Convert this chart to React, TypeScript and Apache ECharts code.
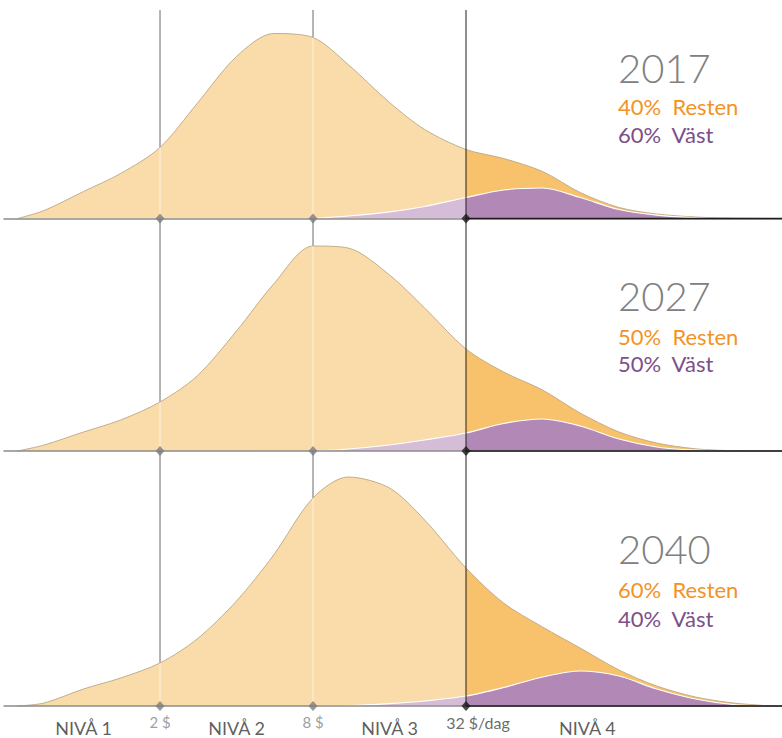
import React, { useEffect, useRef } from 'react';
import * as echarts from 'echarts';

// Income in $ per day (log scale, roughly half-octave steps)
const incomes = [0.55, 0.7, 1, 1.4, 2, 2.8, 4, 5.6, 8, 11, 16, 22, 32, 45, 64, 90, 128, 180, 256, 360, 512];

const years = ['2017', '2027', '2040'];

// Whole-world population density per income step (arbitrary units)
const total2017 = [0, 8, 27, 45, 71, 115, 162, 185, 181, 154, 116, 89, 69, 60, 47, 26, 11, 4.5, 1.5, 0.3, 0];
const total2027 = [0, 6, 19, 31, 49, 75, 120, 167, 205, 203, 176, 143, 102, 79, 61, 38, 19, 8, 2.2, 0.3, 0];
const total2040 = [0, 3, 17, 28, 43, 67, 105, 151, 208, 229, 218, 186, 138, 103, 79, 58, 36, 20, 9, 3, 0];

// "Väst" (the West) part of the population
const vast2017 = [0, 0, 0, 0, 0, 0, 0, 0, 0, 2.5, 6.6, 12, 21, 28.5, 30.5, 21, 9, 3.3, 0.7, 0, 0];
const vast2027 = [0, 0, 0, 0, 0, 0, 0, 0, 0, 2, 6, 11, 18, 27.5, 32, 25, 12, 4, 0.8, 0, 0];
const vast2040 = [0, 0, 0, 0, 0, 0, 0, 0, 0, 0.3, 2.3, 5, 10, 18.5, 29, 35, 30, 17, 7, 1.5, 0];

const totals = [total2017, total2027, total2040];
const vasts = [vast2017, vast2027, vast2040];

// share of people above 32 $/dag
const restenShare = [40, 50, 60];
const vastShare = [60, 50, 40];

const markerValues = [2, 8];
const markerLabels = ['2 $', '8 $'];
const thresholdValue = 32;
const thresholdLabel = '32 $/dag';
const levelLabels = ['NIVÅ 1', 'NIVÅ 2', 'NIVÅ 3', 'NIVÅ 4'];
const levelCenters = [1, 4, 16, 96];

// layout
const W = 782;
const H = 738;
const X_MIN = 0.4866;
const X_MAX = 560.5;
const BASELINES = [218.5, 451, 706];
const PANEL_H = 200;
const SMOOTH = 0.3;
const FONT = 'Lato, "Open Sans", sans-serif';

const LIGHT_ORANGE = '#f9dcaa';
const DARK_ORANGE = '#f7c26b';
const LIGHT_PURPLE = '#d5bdd8';
const DARK_PURPLE = '#b188b6';

function trimZeros(xs: number[], ys: number[]) {
  let first = ys.findIndex((v) => v > 0);
  let last = ys.length - 1;
  while (last > 0 && ys[last] <= 0) last--;
  first = Math.max(0, first - 1);
  last = Math.min(ys.length - 1, last + 1);
  const out: number[][] = [];
  for (let i = first; i <= last; i++) out.push([xs[i], ys[i]]);
  return out;
}

export default function App() {
  const ref = useRef<HTMLDivElement>(null);

  useEffect(() => {
    document.body.style.margin = '0';
    const chart = echarts.init(ref.current!, null, { renderer: 'svg' });

    const grids: any[] = BASELINES.map((b) => ({ left: 4, right: 0, top: b - PANEL_H, height: PANEL_H }));
    grids.push({ left: 4, right: 0, top: 10, height: BASELINES[2] - 10 });

    const xAxes = grids.map((_, i) => ({
      type: 'log',
      logBase: 2,
      gridIndex: i,
      min: X_MIN,
      max: X_MAX,
      z: 6,
      axisLine: { show: i < 3, lineStyle: { color: '#8c8c8c', width: 1.5 } },
      axisTick: { show: false },
      axisLabel: { show: false },
      splitLine: { show: false },
    }));
    const yAxes = grids.map((_, i) => ({
      type: 'value',
      gridIndex: i,
      min: 0,
      max: i < 3 ? PANEL_H : 1,
      show: false,
    }));

    const series: any[] = [];
    const totalIdx: number[] = [];
    const vastIdx: number[] = [];
    const overlay = 3;

    // full-height vertical guide lines (behind the areas)
    markerValues.forEach((v) => {
      series.push({
        type: 'line',
        xAxisIndex: overlay,
        yAxisIndex: overlay,
        data: [[v, 0], [v, 1]],
        showSymbol: false,
        silent: true,
        lineStyle: { color: '#6a6a6a', width: 1 },
        z: 1,
      });
    });

    years.forEach((_, p) => {
      const total = totals[p];
      const vast = vasts[p];
      totalIdx.push(series.length);
      series.push({
        type: 'line',
        xAxisIndex: p,
        yAxisIndex: p,
        data: trimZeros(incomes, total),
        smooth: SMOOTH,
        showSymbol: false,
        silent: true,
        clip: false,
        lineStyle: { color: '#bca682', width: 0.9 },
        areaStyle: { opacity: 1 },
        z: 3,
      });
      vastIdx.push(series.length);
      series.push({
        type: 'line',
        xAxisIndex: p,
        yAxisIndex: p,
        data: trimZeros(incomes, vast),
        smooth: SMOOTH,
        showSymbol: false,
        silent: true,
        clip: false,
        lineStyle: { color: '#ffffff', width: 1.2 },
        areaStyle: { opacity: 1 },
        z: 4,
      });
      // light guide lines inside the areas
      markerValues.forEach((v) => {
        const h = total[incomes.indexOf(v)];
        series.push({
          type: 'line',
          xAxisIndex: p,
          yAxisIndex: p,
          data: [[v, 0], [v, h]],
          showSymbol: false,
          silent: true,
          clip: false,
          lineStyle: { color: 'rgba(255,255,255,0.65)', width: 1 },
          z: 5,
        });
      });
      // black baseline to the right of the threshold
      series.push({
        type: 'line',
        xAxisIndex: p,
        yAxisIndex: p,
        data: [[thresholdValue, 0], [X_MAX, 0]],
        showSymbol: false,
        silent: true,
        clip: false,
        lineStyle: { color: '#1e1e1e', width: 1.5 },
        z: 7,
      });
      // diamonds
      series.push({
        type: 'scatter',
        xAxisIndex: p,
        yAxisIndex: p,
        data: markerValues.map((v) => [v, 0]),
        symbol: 'diamond',
        symbolSize: [9, 10],
        itemStyle: { color: '#7d7d7d' },
        silent: true,
        clip: false,
        z: 9,
      });
      series.push({
        type: 'scatter',
        xAxisIndex: p,
        yAxisIndex: p,
        data: [[thresholdValue, 0]],
        symbol: 'diamond',
        symbolSize: [9, 10],
        itemStyle: { color: '#1a1a1a' },
        silent: true,
        clip: false,
        z: 9,
      });
    });

    // black full-height threshold line
    series.push({
      type: 'line',
      xAxisIndex: overlay,
      yAxisIndex: overlay,
      data: [[thresholdValue, 0], [thresholdValue, 1]],
      showSymbol: false,
      silent: true,
      lineStyle: { color: '#1e1e1e', width: 1 },
      z: 8,
    });

    // bottom labels
    const last = 2;
    series.push({
      type: 'scatter',
      xAxisIndex: last,
      yAxisIndex: last,
      symbolSize: 0,
      silent: true,
      clip: false,
      z: 10,
      data: levelCenters.map((v, i) => ({ value: [v, 0], name: levelLabels[i] })),
      label: {
        show: true,
        position: 'inside',
        offset: [0, 22],
        formatter: '{b}',
        color: '#333333',
        fontSize: 18,
        fontFamily: FONT,
      },
    });
    series.push({
      type: 'scatter',
      xAxisIndex: last,
      yAxisIndex: last,
      symbolSize: 0,
      silent: true,
      clip: false,
      z: 10,
      data: markerValues.map((v, i) => ({ value: [v, 0], name: markerLabels[i] })),
      label: {
        show: true,
        position: 'inside',
        offset: [0, 16],
        formatter: '{b}',
        color: '#858585',
        fontSize: 15,
        fontFamily: FONT,
      },
    });
    series.push({
      type: 'scatter',
      xAxisIndex: last,
      yAxisIndex: last,
      symbolSize: 0,
      silent: true,
      clip: false,
      z: 10,
      data: [{ value: [thresholdValue, 0], name: thresholdLabel }],
      label: {
        show: true,
        position: 'inside',
        offset: [12, 16],
        formatter: '{b}',
        color: '#444444',
        fontSize: 16,
        fontFamily: FONT,
      },
    });

    const titleY = [
      [68, 106, 134],
      [296, 336, 363],
      [549, 589, 618],
    ];
    const graphics: any[] = [];
    years.forEach((y, p) => {
      const [ty, ry, vy] = titleY[p];
      graphics.push({
        type: 'text',
        x: 618,
        y: ty,
        style: { text: y, fill: '#808080', font: `300 40px ${FONT}`, align: 'left', verticalAlign: 'middle', textAlign: 'left', textVerticalAlign: 'middle' },
        z: 20,
      });
      graphics.push({
        type: 'text',
        x: 618,
        y: ry,
        style: { text: `${restenShare[p]}%  Resten`, fill: '#f39325', font: `400 22px ${FONT}`, align: 'left', verticalAlign: 'middle', textAlign: 'left', textVerticalAlign: 'middle' },
        z: 20,
      });
      graphics.push({
        type: 'text',
        x: 618,
        y: vy,
        style: { text: `${vastShare[p]}%  Väst`, fill: '#7d4f89', font: `400 22px ${FONT}`, align: 'left', verticalAlign: 'middle', textAlign: 'left', textVerticalAlign: 'middle' },
        z: 20,
      });
    });

    chart.setOption({
      animation: false,
      backgroundColor: '#ffffff',
      grid: grids,
      xAxis: xAxes,
      yAxis: yAxes,
      visualMap: [
        {
          type: 'piecewise',
          show: false,
          dimension: 0,
          seriesIndex: totalIdx,
          pieces: [
            { gte: 0.01, lte: thresholdValue, color: LIGHT_ORANGE },
            { gt: thresholdValue, lte: 100000, color: DARK_ORANGE },
          ],
        },
        {
          type: 'piecewise',
          show: false,
          dimension: 0,
          seriesIndex: vastIdx,
          pieces: [
            { gte: 0.01, lte: thresholdValue, color: LIGHT_PURPLE },
            { gt: thresholdValue, lte: 100000, color: DARK_PURPLE },
          ],
        },
      ],
      graphic: { elements: graphics },
      series,
    });

    return () => chart.dispose();
  }, []);

  return (
    <div style={{ position: 'fixed', left: 0, top: 0, width: W, height: H, background: '#fff' }}>
      <div ref={ref} style={{ width: W, height: H }} />
    </div>
  );
}
